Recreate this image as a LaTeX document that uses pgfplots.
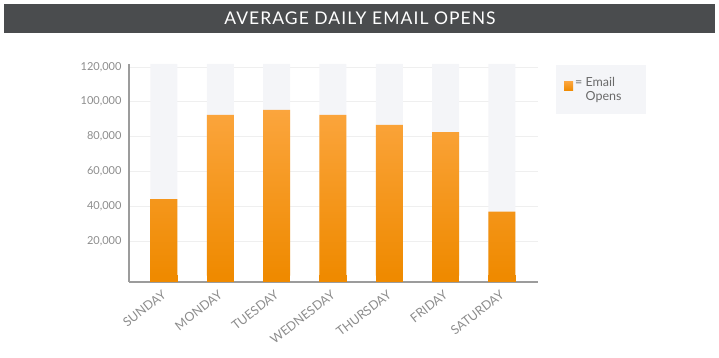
\documentclass[border=0pt]{standalone}
\usepackage{pgfplots}
\pgfplotsset{compat=1.18}
\usepackage{fontspec}
\setmainfont{Lato}
\newfontfamily\titlefont[LetterSpace=6]{Lato}
\definecolor{titlebg}{HTML}{4A4C4E}
\definecolor{colbg}{HTML}{F4F5F8}
\definecolor{barTop}{HTML}{FBA53D}
\definecolor{barBot}{HTML}{EF8A00}
\definecolor{labgray}{HTML}{8C8C8C}
\definecolor{leggray}{HTML}{6A6A6A}
\definecolor{axgray}{HTML}{9C9C9C}
\definecolor{gridc}{HTML}{EFEFEF}
\begin{document}
\begin{tikzpicture}
\useasboundingbox (0,0) rectangle (719pt,358pt);
\fill[titlebg] (4pt,325pt) rectangle (715pt,354pt);
\node[white, font=\titlefont\fontsize{17.5}{20}\selectfont] at (360pt,339.5pt) {AVERAGE DAILY EMAIL OPENS};
\begin{axis}[
  at={(129pt,76pt)}, anchor=south west,
  width=409pt, height=218pt, scale only axis,
  xmin=-0.62, xmax=6.64, ymin=-3600, ymax=121700,
  axis x line*=bottom, axis y line*=left,
  axis line style={axgray, line width=1.3pt, -},
  xtick={0,...,6},
  xticklabels={SUNDAY,MONDAY,TUESDAY,WEDNESDAY,THURSDAY,FRIDAY,SATURDAY},
  ytick={20000,40000,60000,80000,100000,120000},
  yticklabels={{20,000},{40,000},{60,000},{80,000},{100,000},{120,000}},
  scaled y ticks=false,
  major tick length=0pt,
  ymajorgrids, grid style={gridc, line width=0.6pt},
  yticklabel style={labgray, font=\fontsize{11}{13}\selectfont, xshift=-4pt},
  xticklabel style={labgray, font=\fontsize{12.5}{14}\selectfont, xshift=3pt, rotate=38, anchor=east},
  xticklabel shift=9pt,
  legend style={at={(1.044,0.995)}, anchor=north west, fill=colbg, draw=none,
    font=\fontsize{12.5}{14}\selectfont, text=leggray, inner xsep=8pt, inner ysep=10pt,
    cells={align=left}},
  legend image code/.code={\fill[barTop] (0pt,-1pt) rectangle (9pt,8pt);},
]
% background columns
\addplot[ybar, bar width=27pt, bar shift=0pt, fill=colbg, draw=none, forget plot]
  coordinates {(0,121700) (1,121700) (2,121700) (3,121700) (4,121700) (5,121700) (6,121700)};
% data
\addplot[ybar, bar width=27pt, bar shift=0pt, draw=none, top color=barTop, bottom color=barBot]
  coordinates {(0,44100) (1,92400) (2,95300) (3,92400) (4,86700) (5,82500) (6,36800)};
\addlegendentry{\makebox[61pt][l]{= Email}\\\hphantom{= }Opens}
% baseline stub below zero (axis line sits below 0)
\addplot[ybar, bar width=26.2pt, bar shift=0pt, fill=barBot, draw=barBot, line width=0.8pt, forget plot]
  coordinates {(0,-3600) (1,-3600) (2,-3600) (3,-3600) (4,-3600) (5,-3600) (6,-3600)};
\end{axis}
\end{tikzpicture}
\end{document}
